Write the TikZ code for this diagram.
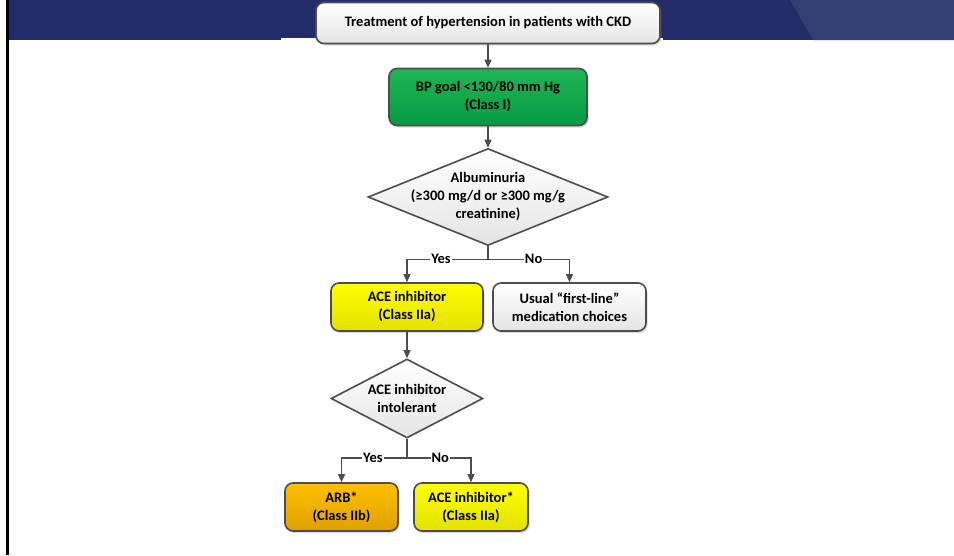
\documentclass[tikz,border=0pt]{standalone}
\usepackage{fontspec}
\setmainfont{Carlito}
\usepackage{tikz}
\usetikzlibrary{shapes.geometric,arrows.meta,shadows}

\definecolor{bandnavy}{HTML}{232B69}
\definecolor{bandlight}{HTML}{333E72}
\definecolor{edgegray}{HTML}{4D4D4D}
\definecolor{greentop}{HTML}{1EB655}
\definecolor{greenbot}{HTML}{079A44}
\definecolor{yellowtop}{HTML}{FFFF00}
\definecolor{yellowbot}{HTML}{E2E200}
\definecolor{orangetop}{HTML}{FFC000}
\definecolor{orangebot}{HTML}{DFA000}
\definecolor{paletop}{HTML}{FFFFFF}
\definecolor{palebot}{HTML}{E4E4E4}

\begin{document}
\begin{tikzpicture}[
  x=1pt, y=-1pt,
  txt/.style={font=\fontsize{14.5}{18}\selectfont\bfseries, align=center, text=black},
  box/.style={
    rectangle, draw=edgegray, line width=1.6pt, rounded corners=8pt,
    txt, inner sep=2pt,
    drop shadow={shadow xshift=1.5pt, shadow yshift=-2pt, opacity=0.3}
  },
  pale/.style={box, top color=paletop, bottom color=palebot},
  goal/.style={box, top color=greentop, bottom color=greenbot},
  drug/.style={box, top color=yellowtop, bottom color=yellowbot},
  alt/.style={box, top color=orangetop, bottom color=orangebot},
  decision/.style={
    diamond, draw=edgegray, line width=1.6pt, txt,
    top color=paletop, bottom color=palebot,
    inner xsep=-30pt, inner ysep=0pt
  },
  flow/.style={-{Triangle[length=8pt, width=7pt]}, line width=1.4pt, edgegray},
  tag/.style={fill=white, inner sep=1pt, txt}
]

% ---- Slide frame ----
\useasboundingbox (0,0) rectangle (954,555);
\fill[white] (0,0) rectangle (954,555);
\fill[bandnavy] (9,0) rectangle (954,40);
\fill[bandlight] (790,0) -- (954,0) -- (954,40) -- (813,40) -- cycle;
\fill[white] (281,37.5) rectangle (663,40.5);
\draw[black, line width=2.5pt] (7.5,0) -- (7.5,555);

% ---- Boxes ----
\node[pale, minimum width=344pt, minimum height=41pt] (title) at (488,23)
  {Treatment of hypertension in patients with CKD};
\node[goal, minimum width=198pt, minimum height=57pt] (goal) at (488,97)
  {BP goal <130/80 mm Hg\\(Class I)};
\node[decision, aspect=2.47, minimum width=240pt, minimum height=97pt] (alb) at (488,197)
  {Albuminuria\\(≥300 mg/d or ≥300 mg/g\\creatinine)};
\node[drug, minimum width=152pt, minimum height=48pt] (ace) at (407,307)
  {ACE inhibitor\\(Class IIa)};
\node[pale, minimum width=153pt, minimum height=48pt] (usual) at (569.5,307)
  {Usual “first-line”\\medication choices};
\node[decision, aspect=1.92, inner xsep=-20pt, minimum width=152pt, minimum height=79pt] (intol) at (407,398.5)
  {ACE inhibitor\\intolerant};
\node[alt, minimum width=113pt, minimum height=48pt] (arb) at (341.5,507)
  {ARB*\\(Class IIb)};
\node[drug, minimum width=114pt, minimum height=48pt] (acestar) at (471,507)
  {ACE inhibitor*\\(Class IIa)};

% ---- Connectors ----
\draw[flow] (title) -- (goal);
\draw[flow] (goal) -- (alb);
\draw[flow] (alb.south) -- ++(0,13) -| node[tag, pos=0.29]{Yes} (ace.north);
\draw[flow] (alb.south) -- ++(0,13) -| node[tag, pos=0.28]{No} (usual.north);
\draw[flow] (ace) -- (intol);
\draw[flow] (intol.south) -- ++(0,19) -| node[tag, pos=0.26]{Yes} (arb.north);
\draw[flow] (intol.south) -- ++(0,19) -| node[tag, pos=0.26]{No} (acestar.north);

\end{tikzpicture}
\end{document}
